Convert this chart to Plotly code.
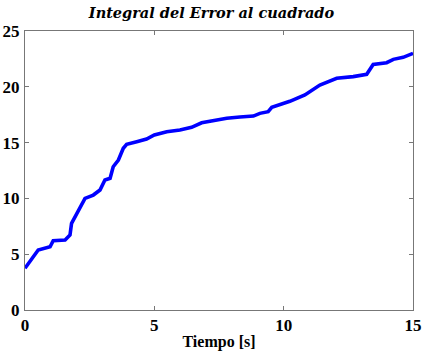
import plotly.graph_objects as go

t = [0, 0.51, 0.97, 1.09, 1.55, 1.74, 1.80, 2.0, 2.16, 2.32, 2.64, 2.90, 3.09, 3.29, 3.41, 3.61,
     3.80, 3.93, 4.32, 4.70, 5.0, 5.48, 5.99, 6.44, 6.83, 7.28, 7.80, 8.31, 8.83, 9.08, 9.40,
     9.54, 9.86, 10.24, 10.82, 11.40, 12.05, 12.69, 13.21, 13.34, 13.46, 13.98, 14.24, 14.62, 15.0]
v = [3.74, 5.38, 5.67, 6.21, 6.27, 6.72, 7.77, 8.66, 9.26, 10.0, 10.3, 10.75, 11.65, 11.8, 12.84, 13.44,
     14.49, 14.85, 15.08, 15.32, 15.68, 15.98, 16.13, 16.37, 16.78, 16.96, 17.18, 17.29, 17.38, 17.62, 17.77,
     18.16, 18.37, 18.70, 19.27, 20.16, 20.76, 20.91, 21.12, 21.65, 22.0, 22.16, 22.46, 22.64, 23.0]

x_ticks = [0, 5, 10, 15]
y_ticks = [0, 5, 10, 15, 20, 25]

font_family = "Liberation Serif, DejaVu Serif, serif"

fig = go.Figure()
fig.add_trace(go.Scatter(x=t, y=v, mode="lines",
                         line=dict(color="#0000ff", width=3.6), showlegend=False))

axis_common = dict(showline=True, linecolor="#777777", linewidth=1, mirror="ticks",
                   ticks="inside", ticklen=4, tickcolor="#777777", showgrid=False,
                   zeroline=False, automargin=False,
                   tickfont=dict(family=font_family, size=17, color="black", weight="bold"))

fig.update_layout(
    width=423, height=351,
    margin=dict(l=25, r=10, t=31, b=41),
    paper_bgcolor="white", plot_bgcolor="white",
    title=dict(text="Integral del Error al cuadrado", x=0.5, xanchor="center",
               y=1 - 13 / 351, yanchor="middle",
               font=dict(family="DejaVu Serif, serif", size=14.5, color="black", weight="bold", style="italic")),
    xaxis=dict(range=[0, 15], tickvals=x_ticks, ticklabelstandoff=0,
               title=dict(text="Tiempo [s]", standoff=2,
                          font=dict(family=font_family, size=16, color="black", weight="bold")),
               **axis_common),
    yaxis=dict(range=[0, 25], tickvals=y_ticks, ticklabelstandoff=1, **axis_common),
)

fig.write_html("out.html")
